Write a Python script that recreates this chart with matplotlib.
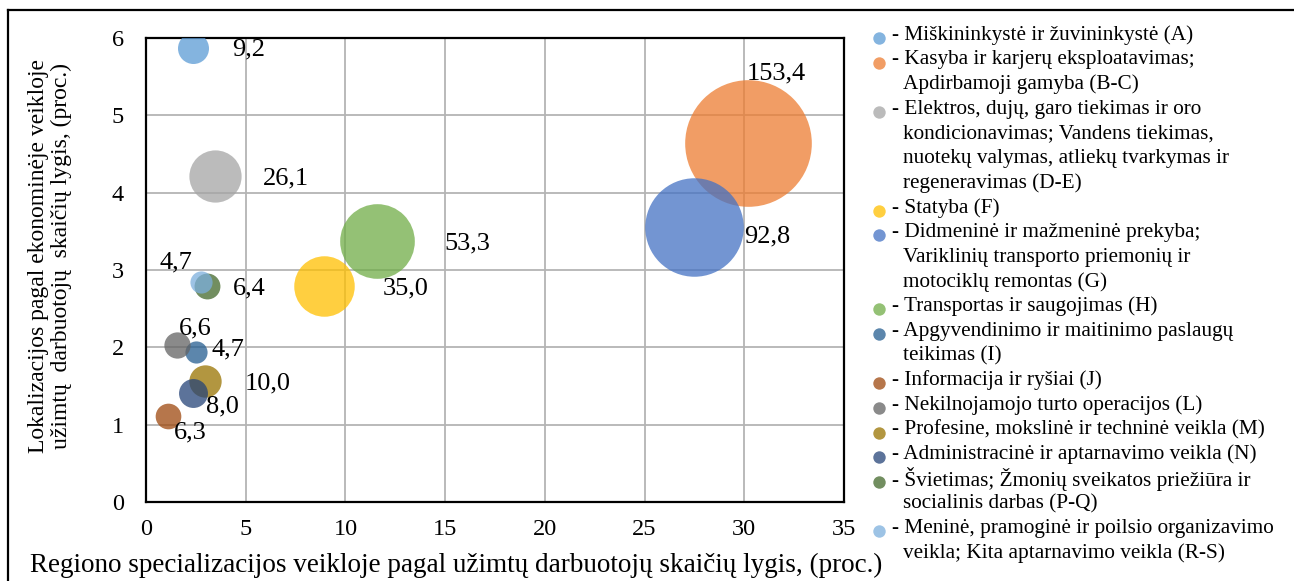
import matplotlib
matplotlib.use('Agg')
import matplotlib.pyplot as plt
from matplotlib.lines import Line2D

plt.rcParams['font.family'] = ['Liberation Serif', 'DejaVu Serif']

# ---------------- data ----------------
sector_codes = ['A', 'B-C', 'D-E', 'F', 'G', 'H', 'I', 'J', 'L', 'M', 'N', 'P-Q', 'R-S']
sector_names = [
    ['Miškininkystė ir žuvininkystė (A)'],
    ['Kasyba ir karjerų eksploatavimas;', 'Apdirbamoji gamyba (B-C)'],
    ['Elektros, dujų, garo tiekimas ir oro', 'kondicionavimas; Vandens tiekimas,',
     'nuotekų valymas, atliekų tvarkymas ir', 'regeneravimas (D-E)'],
    ['Statyba (F)'],
    ['Didmeninė ir mažmeninė prekyba;', 'Variklinių transporto priemonių ir',
     'motociklų remontas (G)'],
    ['Transportas ir saugojimas (H)'],
    ['Apgyvendinimo ir maitinimo paslaugų', 'teikimas (I)'],
    ['Informacija ir ryšiai (J)'],
    ['Nekilnojamojo turto operacijos (L)'],
    ['Profesine, mokslinė ir techninė veikla (M)'],
    ['Administracinė ir aptarnavimo veikla (N)'],
    ['Švietimas; Žmonių sveikatos priežiūra ir', 'socialinis darbas (P-Q)'],
    ['Meninė, pramoginė ir poilsio organizavimo', 'veikla; Kita aptarnavimo veikla (R-S)'],
]
specialization = [2.37, 30.2, 3.46, 8.94, 27.48, 11.58, 2.51, 1.09, 1.54, 2.97, 2.36, 3.04, 2.74]
localization = [5.875, 4.64, 4.21, 2.79, 3.55, 3.375, 1.94, 1.115, 2.03, 1.565, 1.405, 2.79, 2.84]
employees = [9.2, 153.4, 26.1, 35.0, 92.8, 53.3, 4.7, 6.3, 6.6, 10.0, 8.0, 6.4, 4.7]
value_labels = ['9,2', '153,4', '26,1', '35,0', '92,8', '53,3', '4,7', '6,3', '6,6', '10,0', '8,0', '6,4', '4,7']
x_ticks = [0, 5, 10, 15, 20, 25, 30, 35]
y_ticks = [0, 1, 2, 3, 4, 5, 6]
x_title = 'Regiono specializacijos veikloje pagal užimtų darbuotojų skaičių lygis, (proc.)'
y_title = 'Lokalizacijos pagal ekonominėje veikloje\nužimtų  darbuotojų  skaičių lygis, (proc.)'

# ---------------- style ----------------
colors = ['#5B9BD5', '#ED7D31', '#A5A5A5', '#FFC000', '#4472C4', '#70AD47', '#255E91',
          '#9E480E', '#636363', '#997300', '#264478', '#43682B', '#7CAFDD']
label_offsets_px = [(55, -2), (28, 70), (71, -2), (81, -2), (73, -9), (90, -2), (32, 3),
                    (23, -17), (19, 17), (62, -2), (29, -13), (43, -2), (-25, 20)]
BUBBLE_SCALE = 54.2  # points^2 per unit of value
W, H = 1294, 581
DPI = 100

fig = plt.figure(figsize=(W / DPI, H / DPI), dpi=DPI)
ax = fig.add_axes([146 / W, 1 - 502 / H, (844 - 146) / W, (502 - 38) / H])

for i in range(len(sector_codes)):
    ax.scatter(specialization[i], localization[i], s=employees[i] * BUBBLE_SCALE,
               color=colors[i], alpha=0.75, linewidths=0, zorder=3)
    ax.annotate(value_labels[i], (specialization[i], localization[i]),
                xytext=label_offsets_px[i], textcoords='offset pixels',
                ha='center', va='center', fontsize=19, zorder=4)

ax.set_xlim(0, 35)
ax.set_ylim(0, 6)
ax.set_xticks(x_ticks)
ax.set_yticks(y_ticks)
ax.tick_params(length=0, labelsize=17.5)
ax.tick_params(axis='x', pad=12)
ax.tick_params(axis='y', pad=16)
ax.grid(True, color='#b4b4b4', linewidth=1.3, zorder=0)
ax.set_axisbelow(True)
for sp in ax.spines.values():
    sp.set_color('black')
    sp.set_linewidth(1.6)

fig.text(456 / W, 1 - 565 / H, x_title, ha='center', va='center', fontsize=19.5)
fig.text(50 / W, 1 - 256 / H, y_title, ha='center', va='center', rotation=90,
         fontsize=17, multialignment='center', linespacing=1.1)

# ---------------- legend (manual, pixel overlay) ----------------
lax = fig.add_axes([0, 0, 1, 1], facecolor='none')
lax.set_xlim(0, W)
lax.set_ylim(H, 0)
lax.axis('off')
line_h = 24.67
y = 35.0
for i, lines in enumerate(sector_names):
    lax.scatter(879, y + 3, s=80, color=colors[i], alpha=0.75, linewidths=0)
    for j, ln in enumerate(lines):
        if j == 0:
            lax.text(892, y, '- ' + ln, ha='left', va='center', fontsize=15.3)
        else:
            lax.text(903, y, ln, ha='left', va='center', fontsize=15.3)
        y += line_h

# figure border (top and left edges visible)
fig.add_artist(Line2D([8 / W, 1], [1 - 10 / H, 1 - 10 / H], color='black', linewidth=1.6))
fig.add_artist(Line2D([8 / W, 8 / W], [0, 1 - 10 / H], color='black', linewidth=1.6))

fig.savefig('out.png', dpi=DPI)
